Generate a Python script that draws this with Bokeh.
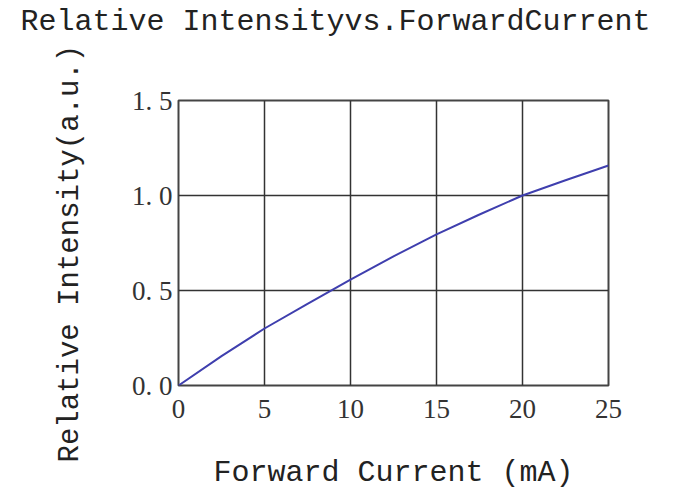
from bokeh.plotting import figure
from bokeh.embed import file_html
from bokeh.resources import INLINE
from bokeh.models import FixedTicker, Range1d, Title

# Data
current_ma = [0, 2.5, 5, 7.5, 10, 12.5, 15, 17.5, 20, 22.5, 25]
rel_intensity = [0.0, 0.155, 0.30, 0.43, 0.557, 0.68, 0.795, 0.90, 1.0, 1.08, 1.158]
x_ticks = [0, 5, 10, 15, 20, 25]
y_ticks = [0.0, 0.5, 1.0, 1.5]
y_tick_labels = ["0. 0", "0. 5", "1. 0", "1. 5"]
title_text = "Relative Intensityvs.ForwardCurrent"
x_label_text = "Forward Current (mA)"
y_label_text = "Relative Intensity(a.u.)"

TITLE_FONT = "Liberation Mono"
TICK_FONT = "Liberation Serif"

p = figure(width=665, height=493, output_backend="svg", toolbar_location=None,
           x_range=Range1d(0, 25), y_range=Range1d(0, 1.5),
           x_axis_label=x_label_text,
           min_border_left=178, min_border_right=57,
           min_border_top=100, min_border_bottom=108)

p.line(current_ma, rel_intensity, line_color="#3f3fae", line_width=2)

for ax in (p.xaxis[0], p.yaxis[0]):
    ax.major_tick_out = 0
    ax.major_tick_in = 0
    ax.minor_tick_out = 0
    ax.minor_tick_in = 0
    ax.axis_line_color = None
    ax.major_label_text_font = TICK_FONT
    ax.major_label_text_font_size = "27px"
    ax.major_label_text_color = "#333333"
    ax.axis_label_text_font = TITLE_FONT
    ax.axis_label_text_font_size = "30px"
    ax.axis_label_text_font_style = "normal"
    ax.axis_label_text_color = "#222222"

p.xaxis.ticker = FixedTicker(ticks=x_ticks)
p.yaxis.ticker = FixedTicker(ticks=y_ticks)
p.yaxis.major_label_overrides = {t: l for t, l in zip(y_ticks, y_tick_labels)}
p.xaxis.major_label_standoff = 14
p.yaxis.major_label_standoff = 6
p.xaxis.axis_label_standoff = 35

# spacer closest to the frame, then the chart title outside it
p.add_layout(Title(text=" ", text_font_size="10px", standoff=48), "above")
p.add_layout(Title(text=title_text, text_font=TITLE_FONT, text_font_size="30px",
                   text_font_style="normal", text_color="#222222",
                   align="left", offset=-158, standoff=2), "above")

# y-axis title on the left, outside the tick labels
p.add_layout(Title(text=y_label_text, text_font=TITLE_FONT, text_font_size="29px",
                   text_font_style="normal", text_color="#222222",
                   align="left", offset=-77, vertical_align="bottom", standoff=84), "left")

p.xgrid.grid_line_color = "#333333"
p.ygrid.grid_line_color = "#333333"
p.xgrid.grid_line_width = 1.5
p.ygrid.grid_line_width = 1.5
p.outline_line_color = "#444444"
p.outline_line_width = 2
p.outline_line_alpha = 1
p.background_fill_color = "white"
p.border_fill_color = "white"

open("out.html", "w").write(file_html(p, INLINE))
